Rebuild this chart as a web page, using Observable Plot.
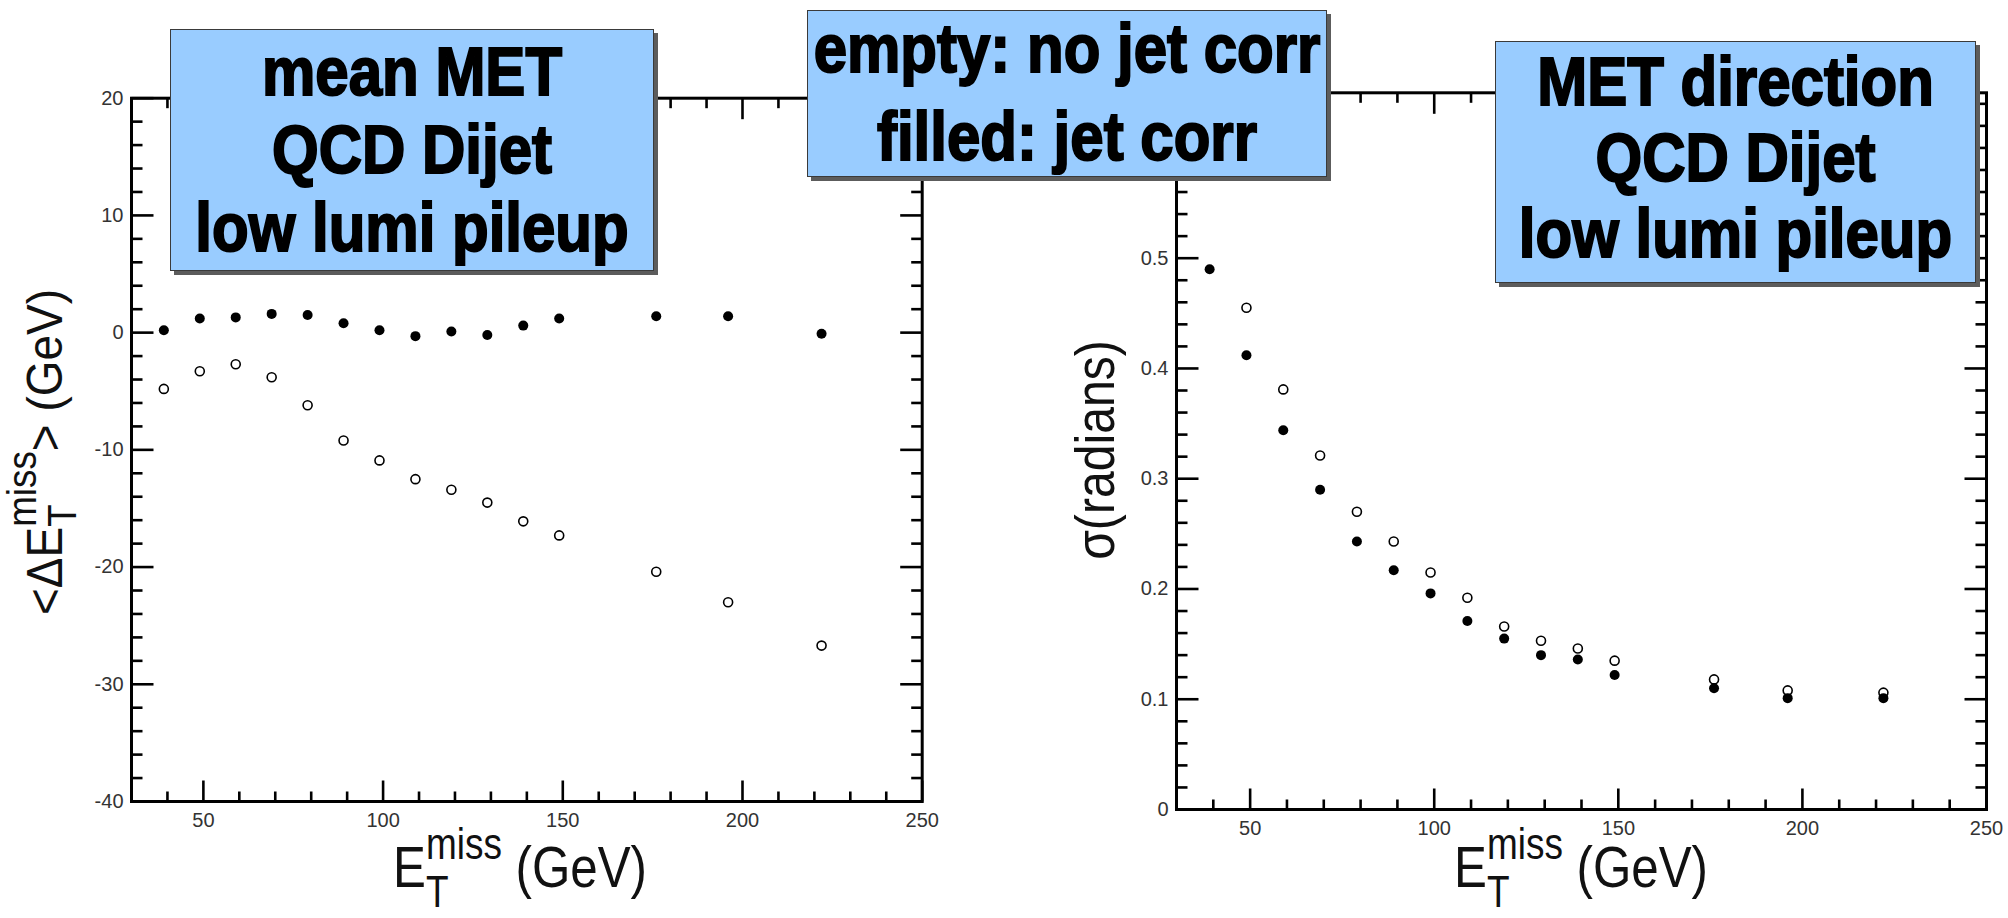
<!DOCTYPE html>
<html>
<head>
<meta charset="utf-8">
<script src="https://cdn.jsdelivr.net/npm/d3@7"></script>
<script src="https://cdn.jsdelivr.net/npm/@observablehq/plot@0.6"></script>
<style>
  html, body { margin: 0; padding: 0; background: #fff; }
  #page { position: relative; width: 2008px; height: 918px; overflow: hidden;
          font-family: "Liberation Sans", Arial, sans-serif; }
  .panel { position: absolute; top: 0; }
  .panel svg { display: block; max-width: none; }
  .note { position: absolute; box-sizing: border-box; background: #99ccff;
          border: 1.5px solid #3a3a3a; box-shadow: 4px 4px 0 #5c5c5c;
          font-family: "Liberation Sans", Arial, sans-serif; font-weight: bold;
          font-size: 60px; color: #000; -webkit-text-stroke: 1.8px #000;
          text-align: center; z-index: 5; }
  .note div { position: absolute; left: 0; right: 0; line-height: 60px; white-space: nowrap;
              transform: scaleY(1.13); transform-origin: 50% 0; }
</style>
</head>
<body>
<div id="page">
  <div class="panel" id="left" style="left:0px"></div>
  <div class="panel" id="right" style="left:1004px"></div>

  <div class="note" style="left:170px; top:29px; width:484px; height:242px;">
    <div style="top:8px">mean MET</div>
    <div style="top:86px">QCD Dijet</div>
    <div style="top:164px">low lumi pileup</div>
  </div>
  <div class="note" style="left:807px; top:10px; width:520px; height:167px;">
    <div style="top:4px">empty: no jet corr</div>
    <div style="top:92px">filled: jet corr</div>
  </div>
  <div class="note" style="left:1495px; top:41px; width:481px; height:242px;">
    <div style="top:6px">MET direction</div>
    <div style="top:82px">QCD Dijet</div>
    <div style="top:158px">low lumi pileup</div>
  </div>
</div>

<script>
// MET bins (GeV), bin centres shared by both panels
const metBins = [39, 49, 59, 69, 79, 89, 99, 109, 119, 129, 139, 149, 176, 196, 222];

// mean MET bias <ΔE_T^miss> (GeV)
const meanJetCorr   = [0.2, 1.2, 1.3, 1.6, 1.5, 0.8, 0.2, -0.3, 0.1, -0.2, 0.6, 1.2, 1.4, 1.4, -0.1];
const meanNoJetCorr = [-4.8, -3.3, -2.7, -3.8, -6.2, -9.2, -10.9, -12.5, -13.4, -14.5, -16.1, -17.3, -20.4, -23.0, -26.7];

// MET direction resolution σ (radians)
const sigmaJetCorr   = [0.490, 0.412, 0.344, 0.290, 0.243, 0.217, 0.196, 0.171, 0.155, 0.140, 0.136, 0.122, 0.110, 0.101, 0.101];
const sigmaNoJetCorr = [null, 0.455, 0.381, 0.321, 0.270, 0.243, 0.215, 0.192, 0.166, 0.153, 0.146, 0.135, 0.118, 0.108, 0.106];

// axes
const xDomain = [30, 250];
const xLabels = [50, 100, 150, 200, 250];
const xMinor  = [40, 60, 70, 80, 90, 110, 120, 130, 140, 160, 170, 180, 190, 210, 220, 230, 240];

const meanDomain = [-40, 20];
const meanLabels = [-40, -30, -20, -10, 0, 10, 20];
const meanMinor  = d3.range(-38, 20, 2).filter(v => v % 10 !== 0);

const sigmaDomain = [0, 0.65];
const sigmaLabels = [0, 0.1, 0.2, 0.3, 0.4, 0.5, 0.6];
const sigmaMinor  = d3.range(1, 33).map(i => +(i * 0.02).toFixed(2)).filter(v => Math.round(v * 100) % 10 !== 0);

const FONT = "Liberation Sans, Arial, sans-serif";

// a straight tick segment for Plot.vector
const tickShape = { draw(context, l) { context.moveTo(0, 0); context.lineTo(0, -l); } };

function frameTicks(xd, yd, xMaj, xMin, yMaj, yMin) {
  const common = { anchor: "start", shape: tickShape, stroke: "black", strokeWidth: 2.6, strokeLinecap: "butt" };
  const marks = [];
  for (const [vals, len] of [[xMaj, 21], [xMin, 10]]) {
    marks.push(Plot.vector(vals, { ...common, x: d => d, y: () => yd[0], length: len, rotate: 0 }));
    marks.push(Plot.vector(vals, { ...common, x: d => d, y: () => yd[1], length: len, rotate: 180 }));
  }
  for (const [vals, len] of [[yMaj, 22], [yMin, 11]]) {
    marks.push(Plot.vector(vals, { ...common, x: () => xd[0], y: d => d, length: len, rotate: 90 }));
    marks.push(Plot.vector(vals, { ...common, x: () => xd[1], y: d => d, length: len, rotate: -90 }));
  }
  return marks;
}

function axisLabels(xl, yl) {
  return [
    Plot.axisX({ ticks: xl, tickSize: 0, tickPadding: 11, tickFormat: d => String(d),
                 fontSize: 20, color: "#333", label: null }),
    Plot.axisY({ ticks: yl, tickSize: 0, tickPadding: 8, tickFormat: d => String(d),
                 fontSize: 20, color: "#333", label: null })
  ];
}

function points(yNo, yCorr) {
  return [
    Plot.dot(yNo,   { x: metBins, y: yNo,   r: 4.5, stroke: "black", strokeWidth: 1.6, fill: "white" }),
    Plot.dot(yCorr, { x: metBins, y: yCorr, r: 5, fill: "black", stroke: "none" })
  ];
}

// E_T^miss style title: main text, stacked sub "T" / sup "miss", trailing text
function addTitle(svg, { x, y, rotate, squeeze, pre, post, size, sub, subDy, supDy }) {
  const t = d3.select(svg).append("text")
    .attr("transform", `translate(${x},${y})` + (rotate ? ` rotate(${rotate})` : "") + ` scale(${squeeze},1)`)
    .attr("text-anchor", "middle")
    .attr("font-family", FONT)
    .attr("font-size", size)
    .attr("fill", "#111");
  t.append("tspan").text(pre);
  t.append("tspan").attr("font-size", sub).attr("dy", subDy).text("T");
  t.append("tspan").attr("font-size", sub).attr("dx", -sub * 0.611).attr("dy", supDy - subDy).text("miss");
  t.append("tspan").attr("dy", -supDy).text(post);
}

// left panel: mean MET
const leftSvg = Plot.plot({
  width: 1004, height: 918,
  marginLeft: 131, marginRight: 82.3, marginTop: 97.7, marginBottom: 117,
  style: { background: "transparent", fontFamily: FONT, overflow: "visible" },
  x: { domain: xDomain, axis: null },
  y: { domain: meanDomain, axis: null },
  marks: [
    ...points(meanNoJetCorr, meanJetCorr),
    Plot.frame({ stroke: "black", strokeWidth: 3 }),
    ...frameTicks(xDomain, meanDomain, xLabels, xMinor, meanLabels, meanMinor),
    ...axisLabels(xLabels, meanLabels)
  ]
});
document.getElementById("left").appendChild(leftSvg);
addTitle(leftSvg, { x: 520, y: 887, squeeze: 0.85, pre: "E", post: " (GeV)", size: 58, sub: 43.5, subDy: 20, supDy: -28 });
addTitle(leftSvg, { x: 62, y: 452, rotate: -90, squeeze: 0.92, pre: "<\u0394E", post: "> (GeV)", size: 50, sub: 40, subDy: 14, supDy: -26 });

// right panel: MET direction resolution
const rightSvg = Plot.plot({
  width: 1004, height: 918,
  marginLeft: 172, marginRight: 22, marginTop: 92.3, marginBottom: 109,
  style: { background: "transparent", fontFamily: FONT, overflow: "visible" },
  x: { domain: xDomain, axis: null },
  y: { domain: sigmaDomain, axis: null },
  marks: [
    ...points(sigmaNoJetCorr, sigmaJetCorr),
    Plot.frame({ stroke: "black", strokeWidth: 3 }),
    ...frameTicks(xDomain, sigmaDomain, xLabels, xMinor, sigmaLabels, sigmaMinor),
    ...axisLabels(xLabels, sigmaLabels)
  ]
});
document.getElementById("right").appendChild(rightSvg);
addTitle(rightSvg, { x: 577, y: 887, squeeze: 0.85, pre: "E", post: " (GeV)", size: 58, sub: 43.5, subDy: 20, supDy: -28 });
d3.select(rightSvg).append("text")
  .attr("transform", "translate(110,450) rotate(-90) scale(0.86,1)")
  .attr("text-anchor", "middle")
  .attr("font-family", FONT)
  .attr("font-size", 56)
  .attr("fill", "#111")
  .text("\u03c3(radians)");
</script>
</body>
</html>
